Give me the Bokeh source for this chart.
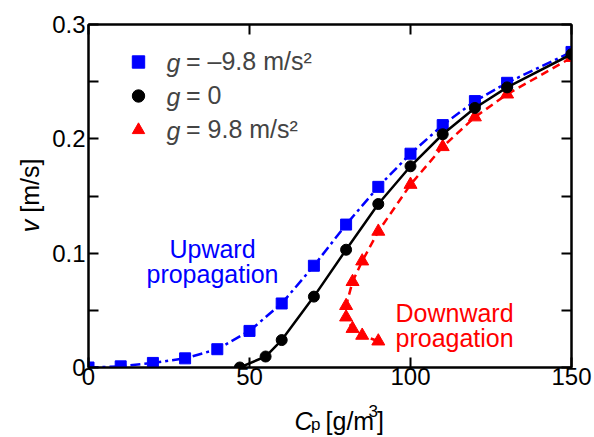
import math
from bokeh.plotting import figure
from bokeh.layouts import row, column
from bokeh.models import Range1d, LinearAxis, FixedTicker, Label, Legend, LegendItem
from bokeh.core.properties import value
from bokeh.embed import file_html
from bokeh.resources import INLINE

# ---- data ----
cp_up = [0, 10, 20, 30, 40, 50, 60, 70, 80, 90, 100, 110, 120, 130, 150]
v_up = [0.0, 0.001, 0.004, 0.008, 0.016, 0.032, 0.056, 0.089, 0.125, 0.158,
        0.187, 0.212, 0.233, 0.249, 0.276]

cp_zero = [47, 55, 60, 70, 80, 90, 100, 110, 120, 130, 150]
v_zero = [0.0, 0.0096, 0.024, 0.062, 0.103, 0.143, 0.176, 0.204, 0.227, 0.245, 0.274]

cp_down = [90, 85, 82, 80, 80, 82, 85, 90, 100, 110, 120, 130, 150]
v_down = [0.023, 0.028, 0.034, 0.044, 0.054, 0.075, 0.093, 0.119, 0.160,
          0.193, 0.219, 0.239, 0.271]

x_ticks = [0, 50, 100, 150]
y_ticks = [0, 0.1, 0.2, 0.3]
y_minor = [0.05, 0.15, 0.25]
y_tick_labels = ["0", "0.1", "0.2", "0.3"]
legend_labels = ["= \u20139.8 m/s\u00b2", "= 0", "= 9.8 m/s\u00b2"]

FONT = "Liberation Sans"
BLUE, RED = "#0000ff", "#ff0000"

# ---- layout geometry (picture pixels; the page is drawn from its top-left corner) ----
TOTAL_W, TOTAL_H = 594, 437
LEFT_W = 48                       # strip holding the y-axis title
MAIN_W = TOTAL_W - LEFT_W
MAIN_H = 394
BOT_H = TOTAL_H - MAIN_H          # strip holding the x-axis title
FRAME_L, FRAME_R, FRAME_T, FRAME_B = 88, 571, 24, 367
X0, X1, Y0, Y1 = 0, 150, 0, 0.3

mb_left = FRAME_L - LEFT_W
mb_right = (LEFT_W + MAIN_W) - FRAME_R
mb_top = FRAME_T
mb_bottom = MAIN_H - FRAME_B
FW = FRAME_R - FRAME_L
FH = FRAME_B - FRAME_T


def dx(px):
    return X0 + (px - FRAME_L) * (X1 - X0) / FW


def dy(py):
    return Y0 + (FRAME_B - py) * (Y1 - Y0) / FH


p = figure(width=MAIN_W, height=MAIN_H, x_range=Range1d(X0, X1), y_range=Range1d(Y0, Y1),
           output_backend="svg", toolbar_location=None, title=None,
           min_border_left=mb_left, min_border_right=mb_right,
           min_border_top=mb_top, min_border_bottom=mb_bottom)
p.grid.visible = False
p.outline_line_color = "black"
p.outline_line_width = 2
p.background_fill_color = "white"
p.border_fill_color = "white"

bottom_ax = p.below[0]
left_ax = p.left[0]
top_ax = LinearAxis()
right_ax = LinearAxis()
p.add_layout(top_ax, "above")
p.add_layout(right_ax, "right")


def style_axis(ax, ticks, minor, show_labels):
    ax.ticker = FixedTicker(ticks=ticks, minor_ticks=minor)
    ax.axis_line_color = "black"
    ax.axis_line_width = 2
    ax.major_tick_in = 10
    ax.major_tick_out = 0
    ax.minor_tick_in = 10
    ax.minor_tick_out = 0
    ax.major_tick_line_width = 2
    ax.minor_tick_line_width = 2
    ax.major_tick_line_color = "black"
    ax.minor_tick_line_color = "black"
    ax.axis_label = None
    if show_labels:
        ax.major_label_text_font = FONT
        ax.major_label_text_font_size = "24px"
        ax.major_label_text_color = "black"
        ax.major_label_standoff = 2
    else:
        ax.major_label_text_font_size = "0px"
        ax.major_label_text_color = None
        ax.major_label_standoff = 0


style_axis(bottom_ax, x_ticks, [], True)
style_axis(top_ax, x_ticks, [], False)
style_axis(left_ax, y_ticks, y_minor, True)
style_axis(right_ax, y_ticks, y_minor, False)
bottom_ax.major_label_standoff = 0
left_ax.major_label_overrides = {t: s for t, s in zip(y_ticks, y_tick_labels)}
left_ax.major_label_standoff = 3

# ---- series ----
p.line(cp_down, v_down, line_color=RED, line_width=2.5, line_dash="8 5")
r_down = p.scatter(cp_down, v_down, marker="triangle", size=13, fill_color=RED, line_color=RED)
p.line(cp_up, v_up, line_color=BLUE, line_width=2.5, line_dash="10 4 3 4")
r_up = p.scatter(cp_up, v_up, marker="square", size=11, fill_color=BLUE, line_color=BLUE)
p.line(cp_zero, v_zero, line_color="black", line_width=2.5)
r_zero = p.scatter(cp_zero, v_zero, marker="circle", size=11, fill_color="black", line_color="black")

# ---- legend (markers only; italic g added as labels) ----
legend = Legend(items=[LegendItem(label=value(legend_labels[0]), renderers=[r_up]),
                       LegendItem(label=value(legend_labels[1]), renderers=[r_zero]),
                       LegendItem(label=value(legend_labels[2]), renderers=[r_down])],
                location="top_left", margin=0, padding=22, spacing=3,
                glyph_width=56, glyph_height=31, label_height=31, label_standoff=20,
                label_text_font=FONT, label_text_font_size="25px",
                background_fill_alpha=0, border_line_alpha=0)
p.add_layout(legend)

for py in (62, 96, 130):
    p.add_layout(Label(x=dx(166), y=dy(py), text="g", text_font=FONT, text_font_size="25px",
                       text_font_style="italic", text_baseline="middle", text_align="left"))


def lab(fig, x, y, text, color="black", align="left", size="25px", style="normal",
        baseline="alphabetic", angle=0):
    fig.add_layout(Label(x=x, y=y, text=text, text_font=FONT, text_font_size=size,
                         text_color=color, text_align=align, text_font_style=style,
                         text_baseline=baseline, angle=angle))


lab(p, dx(212), dy(248.3), "Upward", BLUE, "center")
lab(p, dx(212), dy(273.3), "propagation", BLUE, "center")
lab(p, dx(395), dy(312.5), "Downward", RED)
lab(p, dx(395), dy(337), "proagation", RED)


def strip(w, h):
    f = figure(width=w, height=h, x_range=Range1d(0, w), y_range=Range1d(0, h),
               output_backend="svg", toolbar_location=None, title=None,
               x_axis_location=None, y_axis_location=None,
               min_border=0, min_border_left=0, min_border_right=0,
               min_border_top=0, min_border_bottom=0)
    f.grid.visible = False
    f.outline_line_color = None
    f.background_fill_color = "white"
    f.border_fill_color = "white"
    return f


# ---- y-axis title strip: italic v + [m/s] ----
left_fig = strip(LEFT_W, TOTAL_H)


def ly(py):
    return TOTAL_H - py


lab(left_fig, 29, ly(231.8), "v", style="italic", baseline="middle", angle=math.pi / 2)
lab(left_fig, 29, ly(212.3), "[m/s]", baseline="middle", angle=math.pi / 2)

# ---- x-axis title strip: italic C, subscript p, [g/m^3] ----
bot_fig = strip(MAIN_W, BOT_H)


def bx(px):
    return px - LEFT_W


def by(py):
    return TOTAL_H - py


lab(bot_fig, bx(281), by(420), "C", style="italic")
lab(bot_fig, bx(299.5), by(424), "p", size="17px")
lab(bot_fig, bx(316), by(420), "[g/m")
lab(bot_fig, bx(364.6), by(410), "3", size="17px")
lab(bot_fig, bx(374.1), by(420), "]")

layout = row(left_fig, column(p, bot_fig, spacing=0), spacing=0)

open("out.html", "w").write(file_html(layout, INLINE))
